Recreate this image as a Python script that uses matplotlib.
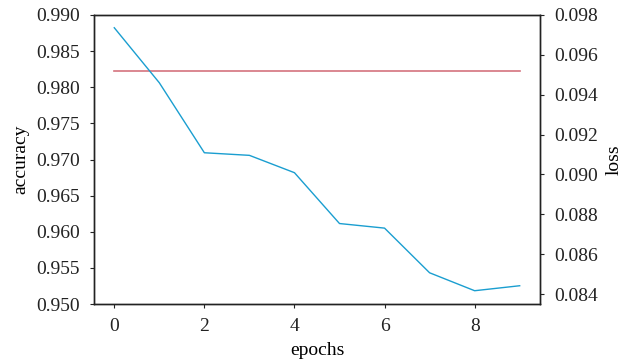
import matplotlib
matplotlib.use('Agg')
import matplotlib.pyplot as plt

epochs = [0, 1, 2, 3, 4, 5, 6, 7, 8, 9]
accuracy = [0.98225] * 10
loss = [0.09736, 0.09460, 0.09109, 0.09096, 0.09009,
        0.08754, 0.08731, 0.08507, 0.08417, 0.08442]

acc_ticks = [0.950, 0.955, 0.960, 0.965, 0.970, 0.975, 0.980, 0.985, 0.990]
loss_ticks = [0.084, 0.086, 0.088, 0.090, 0.092, 0.094, 0.096, 0.098]

plt.rcParams['font.family'] = ['Liberation Serif', 'DejaVu Serif']
plt.rcParams['font.size'] = 14

fig, ax1 = plt.subplots(figsize=(6.33, 3.62), dpi=100)
fig.subplots_adjust(left=0.1485, right=0.853, top=0.9586, bottom=0.160)

ax1.plot(epochs, accuracy, color='#d4737e', linewidth=1.2)
ax1.set_ylim(0.950, 0.990)
ax1.set_yticks(acc_ticks)
ax1.set_yticklabels(['%.3f' % t for t in acc_ticks])
ax1.set_ylabel('accuracy', labelpad=5)
ax1.set_xlabel('epochs', labelpad=5)
ax1.set_xticks([0, 2, 4, 6, 8])

ax2 = ax1.twinx()
ax2.plot(epochs, loss, color='#1a9ed0', linewidth=1.0)
ax2.set_ylim(0.0835, 0.098)
ax2.set_yticks(loss_ticks)
ax2.set_yticklabels(['%.3f' % t for t in loss_ticks])
ax2.set_ylabel('loss', labelpad=6)

for ax in (ax1, ax2):
    for s in ax.spines.values():
        s.set_linewidth(1.0)
        s.set_color('#222222')
    ax.tick_params(colors='#222222', labelcolor='#222222', length=3, pad=7)

fig.savefig('out.png', dpi=100)
